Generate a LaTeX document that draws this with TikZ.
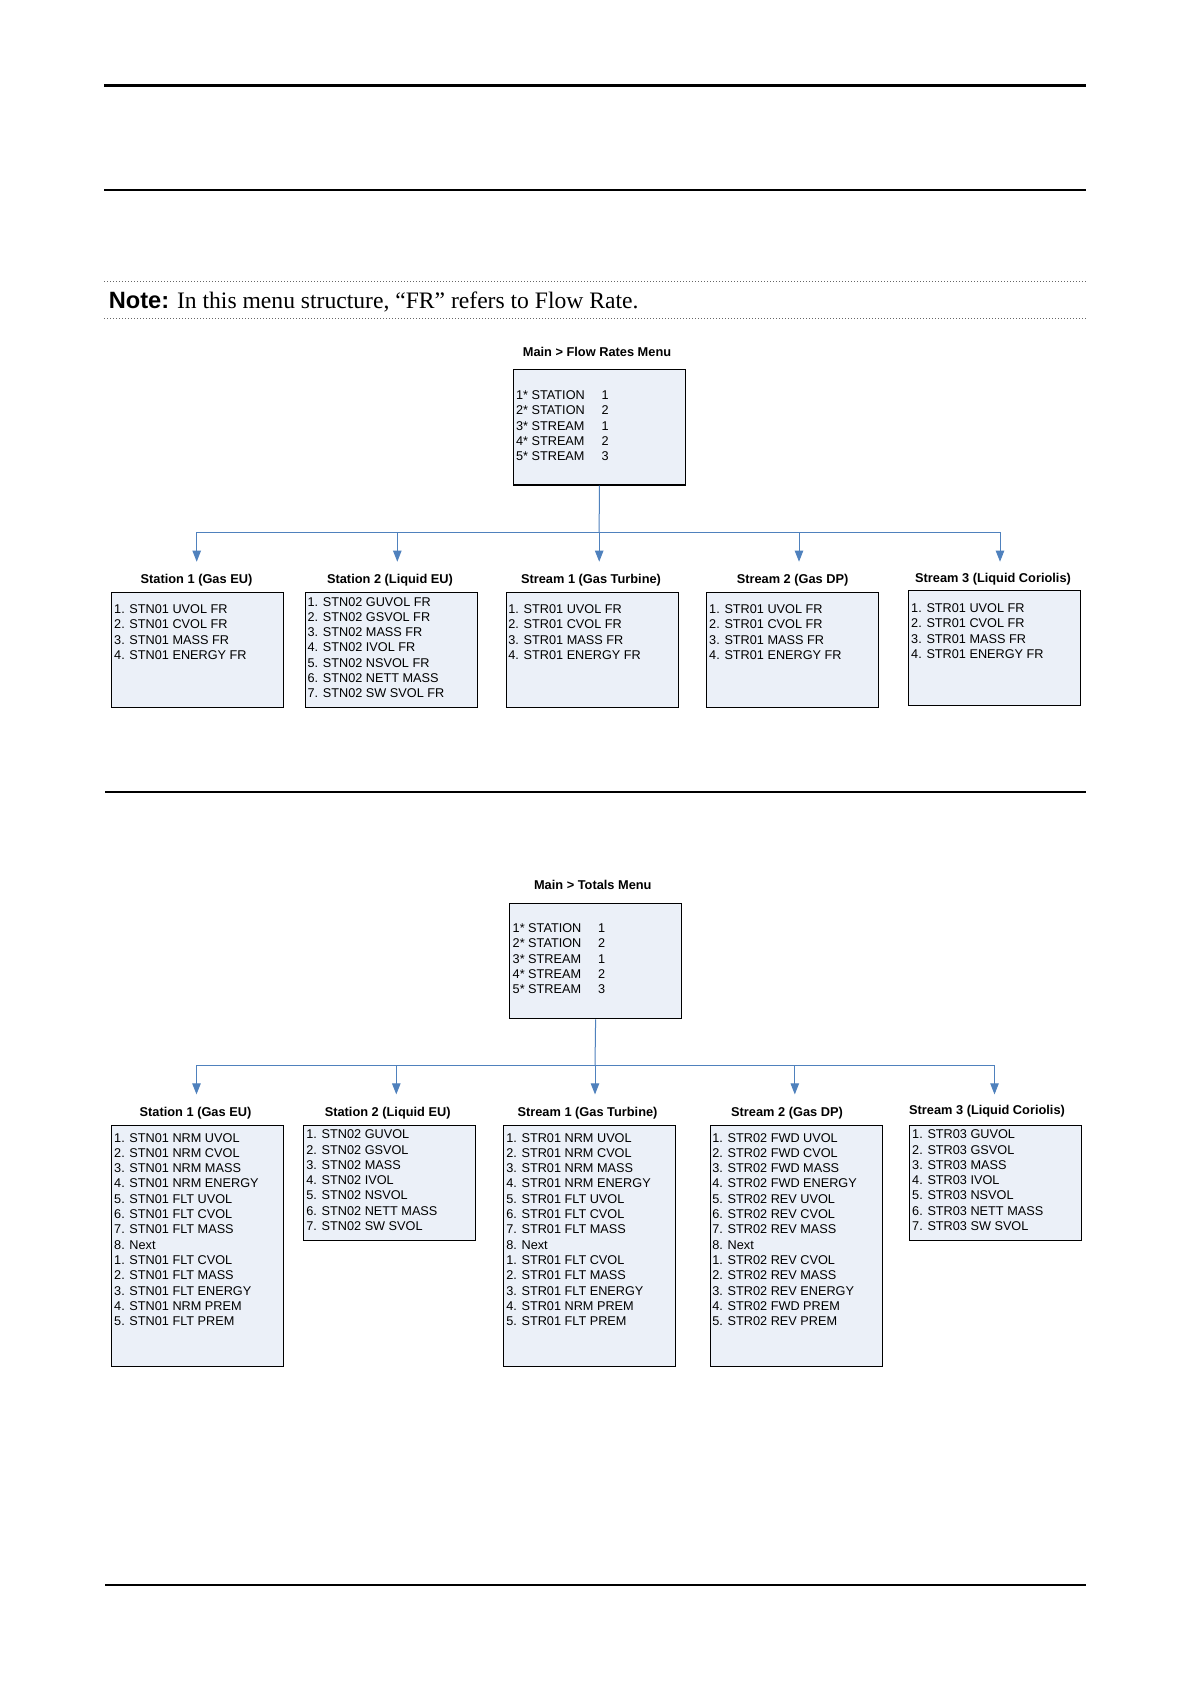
\documentclass[tikz,border=0pt]{standalone}
\usepackage{fontspec}
\setmainfont{Liberation Serif}
\setsansfont{Liberation Sans}
\usetikzlibrary{arrows.meta}

\definecolor{boxfill}{RGB}{235,240,248}
\definecolor{linkblue}{RGB}{79,129,189}
\newcommand{\menupick}[2]{\makebox[42.7pt][l]{#1}#2}

\begin{document}
\begin{tikzpicture}[x=0.5pt, y=-0.5pt, >=Triangle]
    % Styles
    \tikzstyle{menubox} = [rectangle, draw, line width=0.6pt, fill=boxfill, anchor=north west, minimum width=86pt, minimum height=57.5pt, inner sep=0pt]
    \tikzstyle{tallbox} = [menubox, minimum height=120.8pt]
    \tikzstyle{menutitle} = [anchor=base, inner sep=0pt, font=\sffamily\bfseries\fontsize{6.4}{7.6}\selectfont]
    \tikzstyle{menulist} = [anchor=north west, align=left, inner sep=0pt, font=\sffamily\fontsize{6.35}{7.65}\selectfont]
    \tikzstyle{link} = [draw, linkblue, line width=0.5pt]
    \tikzstyle{arrow} = [link, -{Triangle[length=5.5pt, width=4.2pt]}]
    \tikzstyle{thickrule} = [draw, black, line width=1.4pt]
    \tikzstyle{thinrule} = [draw, black, line width=0.6pt]
    \tikzstyle{dotrule} = [draw, gray!80!black, densely dotted, line width=0.5pt]

    % Page
    \path[fill=white, use as bounding box] (0,0) rectangle (1190,1684);
    \draw[thickrule] (104.2,85.9) -- (1085.8,85.9);
    \draw[thickrule] (104.2,190.1) -- (1085.8,190.1);
    \draw[dotrule] (104.2,281.5) -- (1087,281.5);
    \draw[dotrule] (104.2,319) -- (1087,319);
    \node[anchor=base west, inner sep=0pt, font=\fontsize{11.8}{14}\selectfont] (note) at (108.5,308.5) {\textsf{\bfseries Note:} In this menu structure, “FR” refers to Flow Rate.};
    \draw[thinrule] (105,792) -- (1086,792);
    \draw[thinrule] (105,1585) -- (1086,1585);

    % Flow rates menu
    \node[menutitle] (frtitle) at (597,356.3) {Main > Flow Rates Menu};
    \node[menubox] (frmain) at (512.7,369.3) {};
    \node[menulist] (frmainlist) at (515.7,390.4) {\menupick{1* STATION}{1}\\ \menupick{2* STATION}{2}\\ \menupick{3* STREAM}{1}\\ \menupick{4* STREAM}{2}\\ \menupick{5* STREAM}{3}};

    \node[menutitle] (frt1) at (196.5,583.6) {Station 1 (Gas EU)};
    \node[menutitle] (frt2) at (390,583.6) {Station 2 (Liquid EU)};
    \node[menutitle] (frt3) at (591,583.6) {Stream 1 (Gas Turbine)};
    \node[menutitle] (frt4) at (792.6,583.6) {Stream 2 (Gas DP)};
    \node[menutitle] (frt5) at (993,582.4) {Stream 3 (Liquid Coriolis)};

    \node[menubox] (fr1) at (110.6,591.8) {};
    \node[menubox] (fr2) at (305,591.8) {};
    \node[menubox] (fr3) at (505.9,591.8) {};
    \node[menubox] (fr4) at (705.6,591.8) {};
    \node[menubox] (fr5) at (907.5,589.6) {};

    \node[menulist] (fr1list) at (113.8,604.4) {1. STN01 UVOL FR\\ 2. STN01 CVOL FR\\ 3. STN01 MASS FR\\ 4. STN01 ENERGY FR};
    \node[menulist] (fr2list) at (307.2,596.8) {1. STN02 GUVOL FR\\ 2. STN02 GSVOL FR\\ 3. STN02 MASS FR\\ 4. STN02 IVOL FR\\ 5. STN02 NSVOL FR\\ 6. STN02 NETT MASS\\ 7. STN02 SW SVOL FR};
    \node[menulist] (fr3list) at (508,604.4) {1. STR01 UVOL FR\\ 2. STR01 CVOL FR\\ 3. STR01 MASS FR\\ 4. STR01 ENERGY FR};
    \node[menulist] (fr4list) at (708.8,604.4) {1. STR01 UVOL FR\\ 2. STR01 CVOL FR\\ 3. STR01 MASS FR\\ 4. STR01 ENERGY FR};
    \node[menulist] (fr5list) at (910.8,603.4) {1. STR01 UVOL FR\\ 2. STR01 CVOL FR\\ 3. STR01 MASS FR\\ 4. STR01 ENERGY FR};

    \coordinate (frbus) at (599.2,532.3);
    \coordinate (fra1) at (196.7,561.7);
    \coordinate (fra2) at (397.3,561.7);
    \coordinate (fra3) at (599.2,561.7);
    \coordinate (fra4) at (799,561.7);
    \coordinate (fra5) at (1000,561.7);

    \draw[link] (frmain.south) -- (frbus);
    \draw[arrow] (frbus) -| (fra1);
    \draw[arrow] (frbus) -| (fra2);
    \draw[arrow] (frbus) -- (fra3);
    \draw[arrow] (frbus) -| (fra4);
    \draw[arrow] (frbus) -| (fra5);

    % Totals menu
    \node[menutitle] (tottitle) at (592.8,889.6) {Main > Totals Menu};
    \node[menubox] (totmain) at (509,903.2) {};
    \node[menulist] (totmainlist) at (512.3,923.4) {\menupick{1* STATION}{1}\\ \menupick{2* STATION}{2}\\ \menupick{3* STREAM}{1}\\ \menupick{4* STREAM}{2}\\ \menupick{5* STREAM}{3}};

    \node[menutitle] (tott1) at (195.5,1116.2) {Station 1 (Gas EU)};
    \node[menutitle] (tott2) at (387.7,1116.2) {Station 2 (Liquid EU)};
    \node[menutitle] (tott3) at (587.5,1116.2) {Stream 1 (Gas Turbine)};
    \node[menutitle] (tott4) at (787,1116.2) {Stream 2 (Gas DP)};
    \node[menutitle] (tott5) at (987,1114) {Stream 3 (Liquid Coriolis)};

    \node[tallbox] (tot1) at (110.6,1124.5) {};
    \node[menubox] (tot2) at (302.9,1124.5) {};
    \node[tallbox] (tot3) at (502.6,1124.5) {};
    \node[tallbox] (tot4) at (709.9,1124.5) {};
    \node[menubox] (tot5) at (908.6,1124.5) {};

    \node[menulist] (tot1list) at (113.8,1132.8) {1. STN01 NRM UVOL\\ 2. STN01 NRM CVOL\\ 3. STN01 NRM MASS\\ 4. STN01 NRM ENERGY\\ 5. STN01 FLT UVOL\\ 6. STN01 FLT CVOL\\ 7. STN01 FLT MASS\\ 8. Next\\ 1. STN01 FLT CVOL\\ 2. STN01 FLT MASS\\ 3. STN01 FLT ENERGY\\ 4. STN01 NRM PREM\\ 5. STN01 FLT PREM};
    \node[menulist] (tot2list) at (306,1129.5) {1. STN02 GUVOL\\ 2. STN02 GSVOL\\ 3. STN02 MASS\\ 4. STN02 IVOL\\ 5. STN02 NSVOL\\ 6. STN02 NETT MASS\\ 7. STN02 SW SVOL};
    \node[menulist] (tot3list) at (505.9,1132.8) {1. STR01 NRM UVOL\\ 2. STR01 NRM CVOL\\ 3. STR01 NRM MASS\\ 4. STR01 NRM ENERGY\\ 5. STR01 FLT UVOL\\ 6. STR01 FLT CVOL\\ 7. STR01 FLT MASS\\ 8. Next\\ 1. STR01 FLT CVOL\\ 2. STR01 FLT MASS\\ 3. STR01 FLT ENERGY\\ 4. STR01 NRM PREM\\ 5. STR01 FLT PREM};
    \node[menulist] (tot4list) at (712,1132.8) {1. STR02 FWD UVOL\\ 2. STR02 FWD CVOL\\ 3. STR02 FWD MASS\\ 4. STR02 FWD ENERGY\\ 5. STR02 REV UVOL\\ 6. STR02 REV CVOL\\ 7. STR02 REV MASS\\ 8. Next\\ 1. STR02 REV CVOL\\ 2. STR02 REV MASS\\ 3. STR02 REV ENERGY\\ 4. STR02 FWD PREM\\ 5. STR02 REV PREM};
    \node[menulist] (tot5list) at (911.8,1129.5) {1. STR03 GUVOL\\ 2. STR03 GSVOL\\ 3. STR03 MASS\\ 4. STR03 IVOL\\ 5. STR03 NSVOL\\ 6. STR03 NETT MASS\\ 7. STR03 SW SVOL};

    \coordinate (totbus) at (595,1065.4);
    \coordinate (tota1) at (196.5,1094.4);
    \coordinate (tota2) at (396.3,1094.4);
    \coordinate (tota3) at (595,1094.4);
    \coordinate (tota4) at (794.8,1094.4);
    \coordinate (tota5) at (994.5,1094.4);

    \draw[link] (totmain.south) -- (totbus);
    \draw[arrow] (totbus) -| (tota1);
    \draw[arrow] (totbus) -| (tota2);
    \draw[arrow] (totbus) -- (tota3);
    \draw[arrow] (totbus) -| (tota4);
    \draw[arrow] (totbus) -| (tota5);

\end{tikzpicture}
\end{document}
